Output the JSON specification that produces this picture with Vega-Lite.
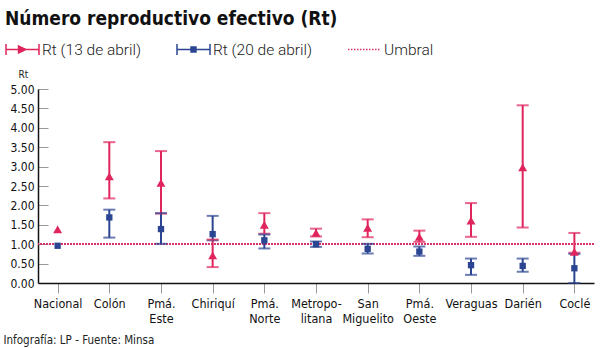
{
  "$schema": "https://vega.github.io/schema/vega-lite/v6.json",
  "autosize": {"type": "none"},
  "width": 556,
  "height": 194,
  "padding": {"left": 38, "top": 89, "right": 6, "bottom": 65},
  "background": "white",
  "config": {
    "font": "DejaVu Sans Condensed, Roboto, sans-serif",
    "view": {"stroke": null},
    "axisY": {
      "title": "Rt",
      "titleAngle": 0,
      "titleAlign": "center",
      "titleBaseline": "bottom",
      "titleX": -15,
      "titleY": -10,
      "titleFontSize": 10,
      "titleFontWeight": "normal",
      "titleColor": "#222222",
      "labelFontSize": 12,
      "labelColor": "#111111",
      "labelPadding": 4,
      "labelOverlap": false,
      "labelBound": false,
      "domainColor": "#111111",
      "domainWidth": 1.5,
      "ticks": false,
      "grid": true,
      "gridColor": "#999999",
      "gridWidth": 1,
      "gridDash": [10, 3000]
    }
  },
  "title": {
    "text": "Número reproductivo efectivo (Rt)",
    "anchor": "start",
    "frame": "group",
    "fontSize": 19,
    "fontWeight": "bold",
    "color": "#111111",
    "dx": -33,
    "offset": 3
  },
  "data": {
    "values": [
      {"region": "Nacional", "serie": "Rt (20 de abril)", "val": 0.96, "lo": null, "hi": null},
      {"region": "Colón", "serie": "Rt (20 de abril)", "val": 1.69, "lo": 1.17, "hi": 1.89},
      {"region": "Pmá. Este", "serie": "Rt (20 de abril)", "val": 1.39, "lo": 1.01, "hi": 1.8},
      {"region": "Chiriquí", "serie": "Rt (20 de abril)", "val": 1.26, "lo": 1.1, "hi": 1.73},
      {"region": "Pmá. Norte", "serie": "Rt (20 de abril)", "val": 1.1, "lo": 0.89, "hi": 1.25},
      {"region": "Metropolitana", "serie": "Rt (20 de abril)", "val": 1.0, "lo": 0.93, "hi": 1.07},
      {"region": "San Miguelito", "serie": "Rt (20 de abril)", "val": 0.88, "lo": 0.76, "hi": 1.01},
      {"region": "Pmá. Oeste", "serie": "Rt (20 de abril)", "val": 0.81, "lo": 0.7, "hi": 0.94},
      {"region": "Veraguas", "serie": "Rt (20 de abril)", "val": 0.46, "lo": 0.21, "hi": 0.63},
      {"region": "Darién", "serie": "Rt (20 de abril)", "val": 0.44, "lo": 0.29, "hi": 0.63},
      {"region": "Coclé", "serie": "Rt (20 de abril)", "val": 0.38, "lo": 0.0, "hi": 0.75},
      {"region": "Nacional", "serie": "Rt (13 de abril)", "val": 1.38, "lo": null, "hi": null},
      {"region": "Colón", "serie": "Rt (13 de abril)", "val": 2.75, "lo": 2.18, "hi": 3.63},
      {"region": "Pmá. Este", "serie": "Rt (13 de abril)", "val": 2.58, "lo": 1.79, "hi": 3.4},
      {"region": "Chiriquí", "serie": "Rt (13 de abril)", "val": 0.71, "lo": 0.41, "hi": 1.12},
      {"region": "Pmá. Norte", "serie": "Rt (13 de abril)", "val": 1.5, "lo": 1.27, "hi": 1.8},
      {"region": "Metropolitana", "serie": "Rt (13 de abril)", "val": 1.29, "lo": 1.2, "hi": 1.4},
      {"region": "San Miguelito", "serie": "Rt (13 de abril)", "val": 1.42, "lo": 1.18, "hi": 1.64},
      {"region": "Pmá. Oeste", "serie": "Rt (13 de abril)", "val": 1.19, "lo": 1.06, "hi": 1.35},
      {"region": "Veraguas", "serie": "Rt (13 de abril)", "val": 1.61, "lo": 1.19, "hi": 2.06},
      {"region": "Darién", "serie": "Rt (13 de abril)", "val": 2.98, "lo": 1.43, "hi": 4.58},
      {"region": "Coclé", "serie": "Rt (13 de abril)", "val": 0.8, "lo": 0.78, "hi": 1.29}
    ]
  },
  "encoding": {
    "x": {
      "field": "region",
      "type": "nominal",
      "scale": {
        "type": "point",
        "padding": 0.38,
        "domain": ["Nacional", "Colón", "Pmá. Este", "Chiriquí", "Pmá. Norte", "Metropolitana", "San Miguelito", "Pmá. Oeste", "Veraguas", "Darién", "Coclé"]
      },
      "axis": {
        "title": "Infografía: LP - Fuente: Minsa",
        "titleAnchor": "start",
        "titleAlign": "left",
        "titleBaseline": "top",
        "titleX": -35,
        "titleY": 51,
        "titleFontSize": 11.5,
        "titleFontWeight": "normal",
        "titleColor": "#222222",
        "labelAngle": 0,
        "labelFontSize": 12.5,
        "labelColor": "#111111",
        "labelPadding": 4,
        "labelLineHeight": 15,
        "labelExpr": "datum.label === 'Metropolitana' ? ['Metropo-', 'litana'] : split(datum.label, ' ')",
        "domainColor": "#111111",
        "domainWidth": 1.5,
        "tickColor": "#999999",
        "tickSize": 10,
        "tickWidth": 1,
        "grid": false
      }
    },
    "color": {
      "field": "serie",
      "type": "nominal",
      "scale": {
        "domain": ["Rt (13 de abril)", "Rt (20 de abril)", "Umbral"],
        "range": ["#e0245c", "#2b4592", "#d6336c"]
      },
      "legend": {
        "title": null,
        "orient": "none",
        "legendX": -33,
        "legendY": -57,
        "direction": "horizontal",
        "columnPadding": 32,
        "symbolSize": 1089,
        "labelFontSize": 15.5,
        "labelFont": "Roboto",
        "labelFontWeight": 300,
        "labelColor": "#222222",
        "labelOffset": 2,
        "encode": {
          "symbols": {
            "update": {
              "shape": {"signal": "datum.value === 'Rt (13 de abril)' ? 'M-1,-0.33L-1,0.33M-1,0L1,0M1,-0.33L1,0.33M-0.24,-0.21L0.2,0L-0.24,0.21Z' : (datum.value === 'Rt (20 de abril)' ? 'M-1,-0.33L-1,0.33M-1,0L1,0M1,-0.33L1,0.33M-0.15,-0.15L0.15,-0.15L0.15,0.15L-0.15,0.15Z' : 'M-1,0L1,0')"},
              "fill": {"signal": "datum.value === 'Umbral' ? 'transparent' : (datum.value === 'Rt (13 de abril)' ? '#e0245c' : '#2b4592')"},
              "stroke": {"signal": "datum.value === 'Umbral' ? '#d6336c' : (datum.value === 'Rt (13 de abril)' ? '#e0245c' : '#2b4592')"},
              "strokeWidth": {"value": 1.5},
              "strokeDash": {"signal": "datum.value === 'Umbral' ? [1.5, 1.5] : [1, 0]"},
              "opacity": {"value": 1}
            }
          }
        }
      }
    }
  },
  "layer": [
    {
      "mark": {"type": "rule", "strokeDash": [1.5, 1.5], "strokeWidth": 1.5, "color": "#d6336c"},
      "encoding": {
        "y": {
          "datum": 1,
          "type": "quantitative",
          "scale": {"domain": [0, 5]},
          "axis": {"values": [0, 0.5, 1, 1.5, 2, 2.5, 3, 3.5, 4, 4.5, 5], "format": ".2f", "title": "Rt"}
        },
        "color": null,
        "x": null
      }
    },
    {
      "mark": {"type": "rule", "strokeWidth": 2},
      "encoding": {
        "y": {"field": "lo", "type": "quantitative", "axis": {"values": [0, 0.5, 1, 1.5, 2, 2.5, 3, 3.5, 4, 4.5, 5], "format": ".2f", "title": "Rt"}},
        "y2": {"field": "hi"}
      }
    },
    {
      "mark": {"type": "tick", "orient": "horizontal", "size": 12, "thickness": 2},
      "encoding": {"y": {"field": "lo", "type": "quantitative", "axis": {"values": [0, 0.5, 1, 1.5, 2, 2.5, 3, 3.5, 4, 4.5, 5], "format": ".2f", "title": "Rt"}}}
    },
    {
      "mark": {"type": "tick", "orient": "horizontal", "size": 12, "thickness": 2},
      "encoding": {"y": {"field": "hi", "type": "quantitative", "axis": {"values": [0, 0.5, 1, 1.5, 2, 2.5, 3, 3.5, 4, 4.5, 5], "format": ".2f", "title": "Rt"}}}
    },
    {
      "mark": {"type": "point", "filled": true, "opacity": 1},
      "encoding": {
        "y": {"field": "val", "type": "quantitative", "axis": {"values": [0, 0.5, 1, 1.5, 2, 2.5, 3, 3.5, 4, 4.5, 5], "format": ".2f", "title": "Rt"}},
        "shape": {
          "field": "serie",
          "type": "nominal",
          "scale": {"domain": ["Rt (13 de abril)", "Rt (20 de abril)"], "range": ["triangle-up", "square"]},
          "legend": null
        },
        "size": {
          "field": "serie",
          "type": "nominal",
          "scale": {"domain": ["Rt (13 de abril)", "Rt (20 de abril)"], "range": [80, 40]},
          "legend": null
        }
      }
    }
  ]
}
